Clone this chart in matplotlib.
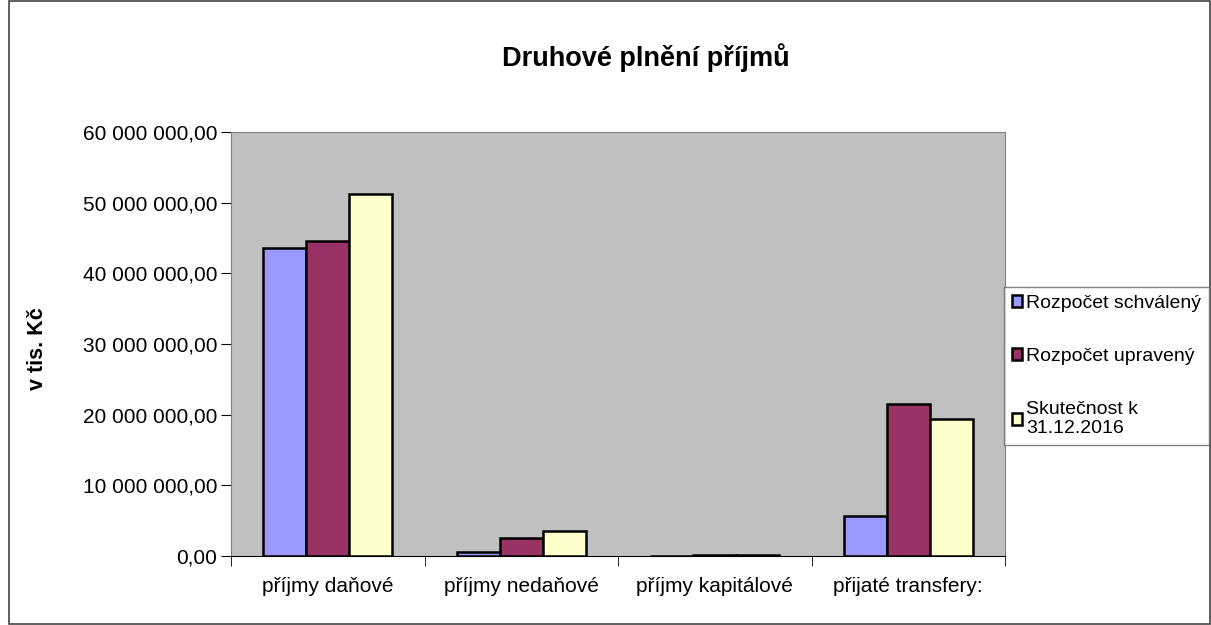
import matplotlib.pyplot as plt
from matplotlib.patches import Rectangle
from matplotlib.ticker import FuncFormatter, MultipleLocator
import numpy as np

plt.rcParams['font.family'] = ['Liberation Sans', 'DejaVu Sans']

kategorie = ['příjmy daňové', 'příjmy nedaňové', 'příjmy kapitálové', 'přijaté transfery:']
serie = ['Rozpočet schválený', 'Rozpočet upravený', 'Skutečnost k\n31.12.2016']
schvaleny = [43600000, 550000, 60000, 5700000]
upraveny = [44600000, 2500000, 100000, 21500000]
skutecnost = [51200000, 3500000, 120000, 19400000]
barvy = ['#9999FF', '#993366', '#FFFFCC']

fig = plt.figure(figsize=(12.11, 6.25), dpi=100)
fig.patches.append(Rectangle((9 / 1211, 0.001), 1 - 9 / 1211 - 0.001, 0.998,
                             transform=fig.transFigure, fill=False,
                             edgecolor='#444444', linewidth=1.2))

ax = fig.add_axes([231 / 1211, 1 - 556 / 625, 774 / 1211, 424 / 625])
ax.set_facecolor('#C0C0C0')

x = np.arange(len(kategorie))
w = 1 / 4.5
for i, (vals, c, lab) in enumerate(zip([schvaleny, upraveny, skutecnost], barvy, serie)):
    ax.bar(x + (i - 1) * w, vals, width=w, color=c, edgecolor='black',
           linewidth=1.8, label=lab, zorder=3)

ax.set_xlim(-0.5, len(kategorie) - 0.5)
ax.set_ylim(0, 60000000)
ax.yaxis.set_major_locator(MultipleLocator(10000000))
ax.yaxis.set_major_formatter(FuncFormatter(
    lambda v, p: '{:,.2f}'.format(v).replace(',', ' ').replace('.', ',')))
ax.set_xticks(x)
ax.set_xticklabels(kategorie)
ax.set_xticks(np.arange(-0.5, len(kategorie)), minor=True)
ax.tick_params(axis='x', which='major', length=0, pad=15, labelsize=15)
ax.tick_params(axis='x', which='minor', length=7, direction='out')
ax.tick_params(axis='y', length=7, direction='out', labelsize=15, pad=3)

for s in ['top', 'right']:
    ax.spines[s].set_color('#808080')
ax.spines['left'].set_color('#808080')
ax.spines['bottom'].set_color('black')

ax.set_ylabel('v tis. Kč', fontsize=15.5, fontweight='bold')
ax.yaxis.set_label_coords(-183 / 774, 0.49)
fig.text(646 / 1211, 1 - 58 / 625, 'Druhové plnění příjmů', ha='center', va='center',
         fontsize=19.5, fontweight='bold')

leg = fig.legend(loc='upper left', bbox_to_anchor=(1004 / 1211, 1 - 287 / 625),
                 frameon=True, fancybox=False, fontsize=14, handlelength=0.55,
                 handleheight=0.55, handletextpad=0.2, labelspacing=1.85,
                 borderpad=0.4, borderaxespad=0)
leg.get_frame().set_edgecolor('#666666')
leg.get_frame().set_linewidth(1.0)

fig.savefig('out.png', dpi=100)
